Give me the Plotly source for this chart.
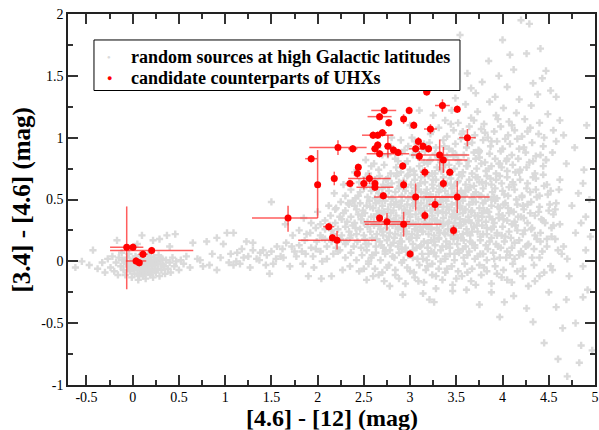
import plotly.graph_objects as go

# ---------------------------------------------------------------------------
# Colour-colour diagram: [4.6]-[12] vs [3.4]-[4.6]
# ---------------------------------------------------------------------------

# Candidate counterparts of UHXs (colours and asymmetric 1-sigma errors)
cand_x = [3.18, 3.35, 3.51, 2.72, 2.99, 2.67, 2.93, 2.77, 3.04, 3.22,
          2.70, 2.60, 2.65, 3.62, 3.09, 2.22, 2.38, 2.62, 2.65, 2.76,
          2.82, 2.87, 2.67, 3.06, 3.14, 3.20, 3.10, 3.32, 3.36, 1.93,
          2.92, 2.44, 2.43, 3.16, 3.43, 2.18, 2.56, 2.00, 2.35, 2.50,
          2.62, 2.62, 2.93, 3.36, 2.71, 3.06, 3.51, 3.27, 1.68, 2.67,
          2.75, 2.93, 3.16, 2.12, 2.16, 2.21, 3.47, 3.00, -0.065, 0.003,
          0.205, 0.111, 0.036, 0.071]
cand_y = [1.37, 1.26, 1.23, 1.22, 1.22, 1.17, 1.15, 1.12, 1.10, 1.07,
          1.04, 1.02, 1.02, 1.00, 0.97, 0.92, 0.91, 0.91, 0.94, 0.93,
          0.90, 0.88, 0.87, 0.91, 0.93, 0.91, 0.85, 0.86, 0.82, 0.83,
          0.77, 0.76, 0.71, 0.72, 0.72, 0.67, 0.67, 0.62, 0.63, 0.63,
          0.63, 0.60, 0.62, 0.63, 0.53, 0.52, 0.52, 0.46, 0.35, 0.35,
          0.32, 0.30, 0.37, 0.28, 0.19, 0.17, 0.25, 0.06, 0.114, 0.114,
          0.087, 0.057, 0.003, -0.011]
cand_ex_lo = [0.04, 0.08, 0.03, 0.14, 0.03, 0.13, 0.03, 0.03, 0.03, 0.07,
              0.05, 0.04, 0.17, 0.09, 0.03, 0.31, 0.05, 0.04, 0.04, 0.04,
              0.03, 0.03, 0.14, 0.07, 0.03, 0.03, 0.03, 0.31, 0.26, 0.065,
              0.03, 0.03, 0.03, 0.05, 0.04, 0.03, 0.23, 0.03, 0.05, 0.04,
              0.03, 0.20, 0.03, 0.03, 0.04, 0.45, 0.35, 0.07, 0.39, 0.03,
              0.25, 0.42, 0.03, 0.06, 0.03, 0.42, 0.03, 0.03, 0.18, 0.03,
              0.45, 0.05, 0.11, 0.03]
cand_ex_hi = [0.04, 0.08, 0.03, 0.13, 0.03, 0.13, 0.03, 0.03, 0.03, 0.07,
              0.05, 0.04, 0.17, 0.09, 0.03, 0.31, 0.05, 0.04, 0.04, 0.04,
              0.03, 0.03, 0.32, 0.07, 0.03, 0.03, 0.03, 0.32, 0.26, 0.065,
              0.03, 0.03, 0.03, 0.05, 0.04, 0.03, 0.23, 0.03, 0.05, 0.04,
              0.03, 0.20, 0.03, 0.03, 0.04, 0.45, 0.35, 0.07, 0.32, 0.03,
              0.25, 0.41, 0.03, 0.06, 0.03, 0.42, 0.03, 0.03, 0.18, 0.03,
              0.45, 0.05, 0.11, 0.03]
cand_ey_lo = [0.03, 0.05, 0.03, 0.03, 0.03, 0.03, 0.04, 0.03, 0.03, 0.04,
              0.03, 0.03, 0.03, 0.07, 0.035, 0.06, 0.03, 0.03, 0.03, 0.09,
              0.03, 0.03, 0.03, 0.03, 0.03, 0.03, 0.04, 0.125, 0.105, 0.03,
              0.03, 0.03, 0.04, 0.04, 0.03, 0.055, 0.045, 0.27, 0.03, 0.05,
              0.03, 0.03, 0.04, 0.04, 0.03, 0.11, 0.13, 0.05, 0.11, 0.03,
              0.07, 0.10, 0.04, 0.03, 0.03, 0.075, 0.04, 0.03, 0.34, 0.03,
              0.03, 0.03, 0.03, 0.03]
cand_ey_hi = [0.03, 0.05, 0.03, 0.03, 0.03, 0.03, 0.04, 0.03, 0.03, 0.04,
              0.03, 0.03, 0.03, 0.07, 0.035, 0.06, 0.03, 0.03, 0.03, 0.09,
              0.03, 0.03, 0.03, 0.03, 0.03, 0.03, 0.04, 0.125, 0.105, 0.03,
              0.03, 0.03, 0.04, 0.04, 0.03, 0.055, 0.045, 0.28, 0.03, 0.05,
              0.03, 0.03, 0.04, 0.04, 0.03, 0.11, 0.13, 0.05, 0.10, 0.03,
              0.07, 0.10, 0.04, 0.03, 0.03, 0.075, 0.04, 0.03, 0.33, 0.03,
              0.03, 0.03, 0.03, 0.03]

# Random WISE sources at high Galactic latitudes ([4.6]-[12], [3.4]-[4.6])
field_sources = [
    # plume towards red [3.4]-[4.6]
    (3.54, 1.83), (3.62, 1.52), (3.71, 1.36), (3.78, 1.45), (3.85, 1.62), (3.92, 1.33),
    (4.00, 1.79), (4.05, 1.41), (4.12, 1.55), (4.18, 1.31), (4.20, 1.95), (4.26, 1.68),
    (4.29, 1.92), (4.33, 1.44), (4.38, 1.35), (4.43, 1.48), (4.47, 1.54), (4.52, 1.38),
    (3.96, 1.50), (4.08, 1.67), (3.66, 1.40), (4.41, 1.72), (3.49, 1.32), (4.58, 1.33),
    # 1.1 - 1.3
    (3.38, 1.14), (3.45, 1.22), (3.52, 1.12), (3.60, 1.27), (3.66, 1.16), (3.73, 1.21),
    (3.80, 1.11), (3.86, 1.29), (3.93, 1.18), (4.01, 1.24), (4.07, 1.13), (4.15, 1.20),
    (4.24, 1.15), (4.31, 1.26), (4.40, 1.12), (4.49, 1.19), (3.25, 1.18), (4.62, 1.14),
    # 1.0 - 1.1
    (3.22, 1.03), (3.31, 1.08), (3.40, 1.01), (3.47, 1.06), (3.56, 1.03), (3.64, 1.09),
    (3.70, 1.02), (3.77, 1.07), (3.84, 1.00), (3.91, 1.05), (3.98, 1.09), (4.06, 1.02),
    (4.13, 1.06), (4.21, 1.01), (4.30, 1.08), (4.39, 1.03), (4.55, 1.06),
    # 0.9 - 1.0
    (2.98, 0.93), (3.05, 0.97), (3.13, 0.91), (3.21, 0.96), (3.28, 0.92), (3.36, 0.98),
    (3.42, 0.91), (3.49, 0.95), (3.55, 0.99), (3.61, 0.92), (3.67, 0.96), (3.74, 0.90),
    (3.79, 0.98), (3.87, 0.93), (3.94, 0.97), (4.00, 0.91), (4.08, 0.95), (4.16, 0.99),
    (4.23, 0.92), (4.32, 0.96), (4.44, 0.93), (4.58, 0.97), (2.90, 0.98),
    # 0.8 - 0.9
    (2.84, 0.83), (2.91, 0.88), (2.97, 0.81), (3.03, 0.86), (3.09, 0.84), (3.16, 0.89),
    (3.22, 0.82), (3.27, 0.87), (3.33, 0.80), (3.40, 0.85), (3.46, 0.89), (3.52, 0.82),
    (3.58, 0.86), (3.63, 0.81), (3.69, 0.88), (3.75, 0.84), (3.81, 0.80), (3.86, 0.87),
    (3.92, 0.83), (3.98, 0.89), (4.04, 0.81), (4.10, 0.86), (4.17, 0.83), (4.25, 0.88),
    (4.33, 0.81), (4.41, 0.86), (4.47, 0.82), (2.76, 0.86), (3.71, 0.83),
    # 0.7 - 0.8
    (2.66, 0.74), (2.72, 0.78), (2.79, 0.71), (2.85, 0.76), (2.90, 0.72), (2.95, 0.79),
    (3.00, 0.74), (3.05, 0.70), (3.10, 0.77), (3.14, 0.73), (3.19, 0.79), (3.24, 0.71),
    (3.29, 0.76), (3.34, 0.73), (3.38, 0.78), (3.43, 0.70), (3.48, 0.75), (3.53, 0.79),
    (3.57, 0.72), (3.62, 0.77), (3.67, 0.71), (3.72, 0.75), (3.77, 0.79), (3.82, 0.73),
    (3.88, 0.77), (3.93, 0.71), (3.99, 0.76), (4.05, 0.73), (4.11, 0.78), (4.18, 0.72),
    (4.26, 0.76), (4.35, 0.71), (4.44, 0.77), (2.58, 0.77), (3.96, 0.79),
    # 0.6 - 0.7
    (2.45, 0.64), (2.52, 0.68), (2.57, 0.61), (2.62, 0.66), (2.67, 0.69), (2.71, 0.62),
    (2.76, 0.67), (2.80, 0.63), (2.85, 0.69), (2.89, 0.61), (2.93, 0.65), (2.97, 0.69),
    (3.01, 0.62), (3.05, 0.66), (3.09, 0.61), (3.12, 0.68), (3.16, 0.64), (3.20, 0.69),
    (3.24, 0.62), (3.28, 0.66), (3.32, 0.61), (3.36, 0.68), (3.40, 0.63), (3.44, 0.67),
    (3.48, 0.61), (3.52, 0.65), (3.56, 0.69), (3.60, 0.62), (3.64, 0.66), (3.69, 0.61),
    (3.73, 0.68), (3.78, 0.64), (3.83, 0.69), (3.88, 0.62), (3.93, 0.66), (3.99, 0.63),
    (4.05, 0.68), (4.12, 0.62), (4.19, 0.66), (4.27, 0.63), (4.36, 0.67), (4.48, 0.62),
    # 0.5 - 0.6
    (2.30, 0.53), (2.36, 0.58), (2.41, 0.51), (2.46, 0.56), (2.50, 0.59), (2.54, 0.52),
    (2.58, 0.57), (2.62, 0.51), (2.66, 0.55), (2.70, 0.59), (2.73, 0.53), (2.77, 0.57),
    (2.81, 0.51), (2.84, 0.56), (2.88, 0.59), (2.91, 0.53), (2.95, 0.57), (2.98, 0.51),
    (3.02, 0.55), (3.05, 0.59), (3.08, 0.52), (3.12, 0.56), (3.15, 0.51), (3.18, 0.58),
    (3.22, 0.54), (3.25, 0.59), (3.28, 0.52), (3.31, 0.56), (3.35, 0.51), (3.38, 0.57),
    (3.41, 0.53), (3.45, 0.59), (3.48, 0.55), (3.52, 0.51), (3.55, 0.57), (3.59, 0.53),
    (3.63, 0.58), (3.67, 0.51), (3.71, 0.56), (3.75, 0.53), (3.79, 0.59), (3.84, 0.52),
    (3.89, 0.56), (3.94, 0.51), (4.00, 0.57), (4.06, 0.53), (4.13, 0.58), (4.21, 0.52),
    (4.30, 0.56), (4.40, 0.53), (4.52, 0.57),
    # 0.4 - 0.5
    (2.20, 0.43), (2.25, 0.48), (2.30, 0.41), (2.34, 0.46), (2.38, 0.49), (2.42, 0.42),
    (2.46, 0.47), (2.49, 0.41), (2.53, 0.45), (2.56, 0.49), (2.60, 0.43), (2.63, 0.47),
    (2.66, 0.41), (2.70, 0.45), (2.73, 0.49), (2.76, 0.42), (2.79, 0.46), (2.82, 0.41),
    (2.85, 0.48), (2.88, 0.44), (2.91, 0.49), (2.94, 0.42), (2.97, 0.46), (3.00, 0.41),
    (3.03, 0.45), (3.06, 0.49), (3.09, 0.43), (3.12, 0.47), (3.15, 0.41), (3.18, 0.45),
    (3.21, 0.49), (3.24, 0.42), (3.27, 0.46), (3.30, 0.41), (3.33, 0.48), (3.36, 0.44),
    (3.39, 0.49), (3.42, 0.42), (3.45, 0.46), (3.48, 0.41), (3.51, 0.47), (3.54, 0.43),
    (3.57, 0.49), (3.60, 0.42), (3.64, 0.46), (3.67, 0.41), (3.71, 0.48), (3.75, 0.43),
    (3.79, 0.47), (3.83, 0.41), (3.88, 0.45), (3.92, 0.49), (3.97, 0.43), (4.03, 0.47),
    (4.09, 0.41), (4.16, 0.46), (4.23, 0.42), (4.31, 0.48), (4.40, 0.44), (4.50, 0.41),
    (4.58, 0.47),
    # 0.3 - 0.4
    (2.08, 0.33), (2.14, 0.37), (2.19, 0.31), (2.24, 0.36), (2.28, 0.39), (2.32, 0.32),
    (2.36, 0.36), (2.40, 0.31), (2.44, 0.38), (2.47, 0.34), (2.51, 0.39), (2.54, 0.32),
    (2.58, 0.36), (2.61, 0.31), (2.64, 0.38), (2.67, 0.34), (2.70, 0.39), (2.73, 0.31),
    (2.76, 0.35), (2.79, 0.39), (2.82, 0.33), (2.85, 0.37), (2.88, 0.31), (2.91, 0.35),
    (2.94, 0.39), (2.97, 0.32), (3.00, 0.36), (3.03, 0.31), (3.06, 0.38), (3.09, 0.34),
    (3.12, 0.39), (3.15, 0.32), (3.18, 0.36), (3.21, 0.31), (3.24, 0.37), (3.27, 0.33),
    (3.30, 0.39), (3.33, 0.31), (3.36, 0.35), (3.39, 0.39), (3.42, 0.32), (3.45, 0.36),
    (3.48, 0.31), (3.51, 0.38), (3.54, 0.34), (3.57, 0.39), (3.60, 0.32), (3.63, 0.36),
    (3.66, 0.31), (3.70, 0.37), (3.74, 0.33), (3.78, 0.39), (3.82, 0.32), (3.86, 0.36),
    (3.91, 0.31), (3.96, 0.38), (4.01, 0.34), (4.07, 0.39), (4.13, 0.32), (4.20, 0.36),
    (4.27, 0.31), (4.35, 0.37), (4.44, 0.33), (4.55, 0.38),
    # 0.2 - 0.3
    (1.92, 0.23), (1.98, 0.27), (2.03, 0.21), (2.08, 0.26), (2.13, 0.29), (2.17, 0.22),
    (2.22, 0.26), (2.26, 0.21), (2.30, 0.28), (2.34, 0.24), (2.38, 0.29), (2.42, 0.22),
    (2.46, 0.26), (2.50, 0.21), (2.54, 0.28), (2.57, 0.24), (2.61, 0.29), (2.64, 0.22),
    (2.68, 0.26), (2.71, 0.21), (2.74, 0.27), (2.78, 0.23), (2.81, 0.29), (2.84, 0.22),
    (2.87, 0.26), (2.90, 0.21), (2.93, 0.28), (2.96, 0.24), (2.99, 0.29), (3.02, 0.22),
    (3.05, 0.26), (3.08, 0.21), (3.11, 0.28), (3.14, 0.24), (3.17, 0.29), (3.20, 0.22),
    (3.23, 0.26), (3.26, 0.21), (3.29, 0.27), (3.32, 0.23), (3.35, 0.29), (3.38, 0.22),
    (3.41, 0.26), (3.44, 0.21), (3.47, 0.28), (3.50, 0.24), (3.53, 0.29), (3.57, 0.22),
    (3.61, 0.26), (3.65, 0.21), (3.69, 0.28), (3.73, 0.24), (3.78, 0.29), (3.83, 0.22),
    (3.88, 0.26), (3.94, 0.21), (4.00, 0.28), (4.07, 0.24), (4.14, 0.29), (4.22, 0.22),
    (4.31, 0.26), (4.41, 0.23), (4.53, 0.27),
    # 0.1 - 0.2
    (1.80, 0.13), (1.86, 0.17), (1.93, 0.11), (1.99, 0.16), (2.05, 0.19), (2.10, 0.12),
    (2.15, 0.16), (2.20, 0.11), (2.25, 0.18), (2.30, 0.14), (2.35, 0.19), (2.39, 0.12),
    (2.43, 0.16), (2.47, 0.11), (2.51, 0.18), (2.55, 0.14), (2.59, 0.19), (2.63, 0.12),
    (2.67, 0.16), (2.71, 0.11), (2.75, 0.17), (2.79, 0.13), (2.83, 0.19), (2.87, 0.12),
    (2.91, 0.16), (2.95, 0.11), (2.99, 0.18), (3.03, 0.14), (3.07, 0.19), (3.11, 0.12),
    (3.15, 0.16), (3.19, 0.11), (3.23, 0.17), (3.27, 0.13), (3.31, 0.19), (3.35, 0.12),
    (3.39, 0.16), (3.43, 0.11), (3.47, 0.18), (3.51, 0.14), (3.55, 0.19), (3.60, 0.12),
    (3.65, 0.16), (3.70, 0.11), (3.76, 0.17), (3.82, 0.13), (3.88, 0.19), (3.95, 0.12),
    (4.02, 0.16), (4.10, 0.11), (4.18, 0.17), (4.27, 0.13), (4.37, 0.18), (4.48, 0.12),
    # 0.0 - 0.1
    (1.95, 0.04), (2.03, 0.08), (2.10, 0.02), (2.17, 0.06), (2.24, 0.09), (2.30, 0.03),
    (2.36, 0.07), (2.42, 0.01), (2.48, 0.05), (2.53, 0.09), (2.58, 0.03), (2.63, 0.07),
    (2.68, 0.01), (2.73, 0.06), (2.78, 0.09), (2.83, 0.03), (2.88, 0.07), (2.93, 0.01),
    (2.98, 0.05), (3.03, 0.09), (3.08, 0.02), (3.13, 0.06), (3.18, 0.01), (3.23, 0.08),
    (3.28, 0.04), (3.33, 0.09), (3.38, 0.02), (3.43, 0.06), (3.48, 0.01), (3.53, 0.07),
    (3.58, 0.03), (3.64, 0.08), (3.70, 0.02), (3.76, 0.06), (3.83, 0.01), (3.90, 0.07),
    (3.97, 0.03), (4.05, 0.08), (4.13, 0.02), (4.22, 0.06), (4.32, 0.03), (4.43, 0.08),
    # -0.1 - 0.0
    (2.35, -0.04), (2.45, -0.08), (2.55, -0.02), (2.62, -0.06), (2.70, -0.09), (2.77, -0.03),
    (2.84, -0.07), (2.91, -0.01), (2.97, -0.05), (3.04, -0.09), (3.10, -0.03), (3.17, -0.07),
    (3.24, -0.02), (3.31, -0.06), (3.38, -0.09), (3.45, -0.04), (3.52, -0.08), (3.59, -0.02),
    (3.67, -0.06), (3.75, -0.03), (3.83, -0.08), (3.92, -0.04), (4.01, -0.07), (4.11, -0.02),
    (4.22, -0.06), (4.34, -0.03), (4.45, -0.09),
    # -0.2 - -0.1
    (2.60, -0.12), (2.72, -0.16), (2.84, -0.11), (2.95, -0.18), (3.05, -0.13), (3.15, -0.17),
    (3.24, -0.11), (3.35, -0.15), (3.46, -0.19), (3.56, -0.12), (3.66, -0.16), (3.77, -0.11),
    (3.88, -0.18), (3.99, -0.13), (4.10, -0.17), (4.22, -0.12), (4.35, -0.16),
    # blue tail
    (2.78, -0.20), (2.92, -0.27), (3.14, -0.26), (3.21, -0.31), (3.28, -0.22), (3.46, -0.24),
    (3.61, -0.23), (3.26, -0.33), (3.75, -0.35), (3.97, -0.45), (4.33, -0.49), (4.45, -0.66),
    (4.65, -0.54), (4.79, -0.50), (4.85, -0.68), (4.58, -0.37), (4.69, -0.31), (4.87, -0.29),
    (4.92, -0.23), (4.83, -0.82), (4.70, -0.93), (4.12, -0.28), (3.88, -0.25), (4.02, -0.33),
    (4.50, -0.25), (4.26, -0.38), (4.97, -0.72), (4.60, -0.79),
    # very red [4.6]-[12]
    (4.72, -0.12), (4.54, -0.07), (4.87, -0.04), (4.90, 0.09), (4.79, 0.23), (4.90, 0.36),
    (4.88, 0.74), (4.87, 0.63), (4.69, 0.79), (4.61, 0.58), (4.47, 0.82), (4.66, 0.12),
    (4.75, 0.45), (4.62, 0.30), (4.82, 0.55), (4.95, 0.20), (4.70, 0.02), (4.57, 0.18),
    (4.94, 0.50), (4.78, 0.92), (4.66, 1.02), (4.91, 1.10), (4.85, 0.31),
    # galaxy core, second sampling
    (2.33, 0.47), (2.41, 0.27), (2.48, 0.37), (2.52, 0.14), (2.57, 0.44), (2.59, 0.05),
    (2.64, 0.58), (2.66, 0.29), (2.69, 0.13), (2.72, 0.40), (2.74, 0.66), (2.77, 0.20),
    (2.80, 0.51), (2.81, 0.04), (2.84, 0.33), (2.86, 0.71), (2.89, 0.16), (2.90, 0.45),
    (2.92, 0.26), (2.95, 0.60), (2.96, 0.08), (2.99, 0.38), (3.01, 0.19), (3.02, 0.52),
    (3.04, 0.73), (3.06, 0.30), (3.07, 0.11), (3.10, 0.43), (3.11, 0.63), (3.13, 0.24),
    (3.14, 0.02), (3.16, 0.35), (3.17, 0.55), (3.19, 0.15), (3.21, 0.81), (3.22, 0.41),
    (3.23, 0.27), (3.25, 0.66), (3.26, 0.07), (3.28, 0.49), (3.29, 0.33), (3.31, 0.18),
    (3.32, 0.58), (3.34, 0.74), (3.35, 0.40), (3.37, 0.23), (3.38, 0.04), (3.40, 0.52),
    (3.41, 0.31), (3.43, 0.14), (3.44, 0.62), (3.46, 0.38), (3.47, 0.85), (3.49, 0.21),
    (3.50, 0.47), (3.52, 0.09), (3.53, 0.70), (3.55, 0.29), (3.56, 0.55), (3.58, 0.17),
    (3.59, 0.42), (3.61, 0.77), (3.62, 0.05), (3.64, 0.33), (3.65, 0.60), (3.67, 0.24),
    (3.68, 0.48), (3.70, 0.13), (3.71, 0.68), (3.73, 0.37), (3.74, 0.88), (3.76, 0.20),
    (3.77, 0.53), (3.79, 0.06), (3.80, 0.41), (3.82, 0.63), (3.83, 0.27), (3.85, 0.75),
    (3.86, 0.16), (3.88, 0.50), (3.89, 0.34), (3.91, 0.02), (3.92, 0.59), (3.94, 0.23),
    (3.95, 0.44), (3.97, 0.69), (3.98, 0.11), (4.00, 0.37), (4.02, 0.54), (4.03, 0.20),
    (4.05, 0.83), (4.06, 0.43), (4.08, 0.05), (4.10, 0.30), (4.11, 0.64), (4.13, 0.15),
    (4.15, 0.50), (4.17, 0.36), (4.19, 0.74), (4.20, 0.08), (4.22, 0.45), (4.24, 0.25),
    (4.26, 0.59), (4.28, 0.14), (4.30, 0.39), (4.33, 0.68), (4.35, 0.21), (4.37, 0.52),
    (4.40, 0.03), (4.42, 0.34), (4.45, 0.61), (4.48, 0.18), (4.51, 0.46), (4.55, 0.29),
    (4.60, 0.09),
    (2.36, 0.21), (2.44, 0.53), (2.50, 0.31), (2.55, 0.00), (2.61, 0.36), (2.63, 0.18),
    (2.67, 0.49), (2.70, 0.24), (2.73, 0.08), (2.76, 0.61), (2.78, 0.34), (2.82, 0.15),
    (2.83, 0.46), (2.87, 0.28), (2.88, 0.64), (2.91, 0.10), (2.94, 0.41), (2.96, 0.22),
    (2.98, 0.70), (3.00, 0.31), (3.03, 0.03), (3.05, 0.47), (3.08, 0.25), (3.09, 0.58),
    (3.12, 0.13), (3.13, 0.39), (3.15, 0.80), (3.18, 0.28), (3.20, 0.06), (3.21, 0.51),
    (3.24, 0.34), (3.26, 0.16), (3.27, 0.71), (3.30, 0.44), (3.31, 0.25), (3.33, 0.00),
    (3.34, 0.62), (3.36, 0.30), (3.39, 0.12), (3.40, 0.44), (3.42, 0.78), (3.44, 0.26),
    (3.45, 0.53), (3.48, 0.06), (3.49, 0.35), (3.51, 0.64), (3.52, 0.19), (3.54, 0.45),
    (3.57, 0.10), (3.58, 0.32), (3.60, 0.57), (3.62, 0.23), (3.63, 0.81), (3.66, 0.40),
    (3.67, 0.15), (3.69, 0.54), (3.72, 0.29), (3.73, 0.04), (3.75, 0.64), (3.78, 0.36),
    (3.79, 0.22), (3.81, 0.49), (3.84, 0.10), (3.85, 0.40), (3.87, 0.67), (3.90, 0.28),
    (3.91, 0.52), (3.93, 0.14), (3.96, 0.35), (3.97, 0.79), (3.99, 0.21), (4.01, 0.46),
    (4.04, 0.03), (4.05, 0.33), (4.07, 0.60), (4.09, 0.19), (4.12, 0.40), (4.14, 0.72),
    (4.16, 0.25), (4.18, 0.05), (4.21, 0.53), (4.23, 0.35), (4.25, 0.12), (4.27, 0.46),
    (4.29, 0.80), (4.32, 0.27), (4.34, 0.10), (4.36, 0.58), (4.39, 0.40), (4.41, 0.16),
    (4.44, 0.70), (4.46, 0.31), (4.49, 0.54), (4.53, 0.20), (4.57, 0.42), (4.62, 0.66),
    (4.64, 0.06),
    (2.55, 0.71), (2.61, 0.79), (2.70, 0.86), (2.79, 0.93), (2.87, 0.81), (2.94, 0.90),
    (3.02, 1.00), (3.08, 0.88), (3.15, 0.95), (3.23, 1.05), (3.30, 0.84), (3.37, 0.93),
    (3.44, 1.11), (3.50, 0.86), (3.57, 1.05), (3.62, 0.95), (3.69, 1.14), (3.75, 0.89),
    (3.81, 1.04), (3.88, 0.97), (3.95, 1.15), (4.03, 0.99), (4.10, 1.10), (4.18, 0.91),
    (4.27, 1.05), (4.36, 0.85), (4.45, 1.00), (4.54, 0.88),
    (2.50, -0.06), (2.66, -0.11), (2.75, -0.05), (2.88, -0.14), (3.00, -0.08), (3.09, -0.16),
    (3.19, -0.04), (3.28, -0.12), (3.40, -0.06), (3.50, -0.14), (3.62, -0.09), (3.71, -0.19),
    (3.80, -0.05), (3.94, -0.10), (4.05, -0.15), (4.16, -0.08), (4.28, -0.20), (4.40, -0.12),
    (4.52, -0.04),
    (2.08, 0.18), (2.15, 0.25), (2.22, 0.08), (2.26, 0.34), (2.31, 0.16), (2.19, 0.42),
    (2.40, 0.45), (1.98, 0.10), (2.03, 0.30), (1.88, 0.22), (1.83, 0.08), (1.72, 0.12),
    (1.62, 0.10), (1.55, 0.02), (1.45, 0.05), (1.38, 0.07), (1.25, 0.04), (1.18, 0.10),
    (1.12, 0.00), (1.06, 0.06),
    # stellar locus
    (-0.62, -0.05), (-0.55, 0.00), (-0.47, -0.03), (-0.43, 0.09), (-0.38, -0.06), (-0.33, -0.01),
    (-0.30, -0.09), (-0.27, 0.02), (-0.24, -0.05), (-0.22, 0.04), (-0.20, -0.08), (-0.18, -0.01),
    (-0.17, 0.17), (-0.16, -0.11), (-0.15, 0.03), (-0.13, -0.04), (-0.12, 0.07), (-0.10, -0.07),
    (-0.09, 0.00), (-0.08, -0.11), (-0.06, 0.03), (-0.05, -0.04), (-0.04, 0.06), (-0.03, -0.08),
    (-0.02, -0.01), (-0.01, -0.13), (0.00, 0.02), (0.01, -0.05), (0.02, -0.10), (0.03, 0.04),
    (0.04, -0.03), (0.05, -0.07), (0.06, 0.00), (0.07, -0.12), (0.08, 0.05), (0.09, -0.05),
    (0.10, -0.02), (0.11, -0.09), (0.12, 0.02), (0.13, -0.06), (0.14, -0.14), (0.15, -0.01),
    (0.16, -0.08), (0.17, 0.06), (0.18, -0.04), (0.19, -0.11), (0.20, 0.01), (0.21, -0.06),
    (0.22, -0.13), (0.23, 0.03), (0.24, -0.03), (0.25, -0.09), (0.26, 0.00), (0.27, -0.06),
    (0.28, 0.05), (0.29, -0.12), (0.30, -0.02), (0.31, -0.07), (0.32, 0.02), (0.34, -0.04),
    (0.35, -0.10), (0.36, 0.01), (0.38, -0.06), (0.40, -0.01), (0.41, -0.09), (0.43, 0.03),
    (0.45, -0.04), (0.47, 0.00), (0.50, -0.07), (0.52, 0.01), (0.55, -0.02),
    (0.02, -0.02), (0.05, -0.04), (0.08, -0.07), (0.10, 0.01), (0.12, -0.03), (0.15, -0.05),
    (0.18, 0.00), (0.20, -0.09), (0.22, -0.02), (0.25, 0.01), (0.00, -0.06), (-0.02, -0.05),
    (0.07, -0.01), (0.13, -0.10), (0.17, -0.07), (0.27, -0.02), (0.33, -0.03), (0.04, 0.01),
    (0.09, -0.09), (0.16, 0.02), (0.11, -0.12), (-0.07, -0.02), (0.24, -0.07), (0.30, 0.03),
    (0.19, 0.04), (-0.11, 0.01), (0.06, -0.15),
    (0.10, 0.21), (0.22, 0.17), (0.29, 0.18), (0.37, 0.21), (0.46, 0.22), (0.05, 0.14),
    (0.40, 0.12),
    # bridge between stars and galaxies
    (0.58, 0.04), (0.62, -0.05), (0.65, 0.15), (0.70, 0.02), (0.73, 0.01), (0.76, -0.04),
    (0.80, 0.16), (0.83, -0.03), (0.86, 0.06), (0.91, 0.19), (0.91, -0.07), (0.95, 0.03),
    (0.98, 0.14), (1.02, 0.23), (1.04, -0.01), (1.09, 0.23), (1.09, -0.03), (1.13, 0.07),
    (1.16, -0.02), (1.20, 0.03), (1.23, 0.16), (1.27, -0.05), (1.30, 0.09), (1.30, 0.15),
    (1.34, 0.02), (1.37, 0.01), (1.41, 0.09), (1.44, -0.03), (1.48, -0.10), (1.50, 0.08),
    (1.50, 0.48), (1.52, -0.02), (1.56, 0.12), (1.60, 0.04), (1.63, 0.03), (1.66, 0.15),
    (1.70, -0.04), (1.73, 0.21), (1.75, 0.08), (1.77, 0.04), (1.80, 0.25), (1.84, -0.02),
    (1.87, 0.06), (1.90, -0.12), (1.93, 0.31), (1.96, -0.05), (2.04, -0.14), (2.15, -0.12),
    (2.27, -0.07), (2.53, -0.15), (2.00, 0.40), (2.12, 0.45), (2.05, 0.00), (1.65, 0.30),
    (1.85, 0.35), (2.18, 0.55), (2.28, 0.62), (2.40, 0.72), (2.52, 0.82), (2.65, 0.92),
    (2.80, 1.00), (3.00, 1.10), (3.10, 1.22),
]
field_x = [p[0] for p in field_sources]
field_y = [p[1] for p in field_sources]

# Axis ticks
x_tick_vals = [-0.5, 0, 0.5, 1, 1.5, 2, 2.5, 3, 3.5, 4, 4.5, 5]
x_tick_text = ["-0.5", "0", "0.5", "1", "1.5", "2", "2.5", "3", "3.5", "4", "4.5", "5"]
y_tick_vals = [-1, -0.5, 0, 0.5, 1, 1.5, 2]
y_tick_text = ["-1", "-0.5", "0", "0.5", "1", "1.5", "2"]

# Legend entries
legend_labels = ["random sources at high Galactic latitudes", "candidate counterparts of UHXs"]

SERIF = "Liberation Serif"
FIELD_GREY = "#dadada"
CAND_RED = "#ff0000"

fig = go.Figure()

fig.add_trace(go.Scatter(
    x=field_x, y=field_y, mode="markers", name=legend_labels[0], showlegend=False,
    marker=dict(symbol="cross", size=6, color=FIELD_GREY, line=dict(width=0)),
))
fig.add_trace(go.Scatter(
    x=cand_x, y=cand_y, mode="markers", name=legend_labels[1], showlegend=False,
    marker=dict(symbol="circle", size=7, color=CAND_RED, line=dict(width=0)),
    error_x=dict(type="data", symmetric=False, array=cand_ex_hi, arrayminus=cand_ex_lo,
                 color="rgba(255,40,40,0.75)", thickness=1.5, width=0),
    error_y=dict(type="data", symmetric=False, array=cand_ey_hi, arrayminus=cand_ey_lo,
                 color="rgba(255,40,40,0.75)", thickness=1.5, width=0),
))

axis_common = dict(
    showgrid=False, zeroline=False,
    showline=True, linecolor="#222222", linewidth=1.5, mirror="allticks",
    ticks="inside", ticklen=10, tickwidth=1.5, tickcolor="#333333",
    tickfont=dict(family=SERIF, size=14, color="black"),
    minor=dict(ticks="inside", ticklen=5, tickwidth=1.5, tickcolor="#333333", dtick=0.25),
)
fig.update_xaxes(range=[-0.7, 5], tickmode="array", tickvals=x_tick_vals,
                 ticktext=x_tick_text, ticklabelstandoff=-2, **axis_common)
fig.update_yaxes(range=[-1, 2], tickmode="array", tickvals=y_tick_vals,
                 ticktext=y_tick_text, **axis_common)

# Framed key in the upper-left corner of the plotting area
legend_box = dict(x0=0.0493, x1=0.7438, y0=0.7938, y1=0.930)
legend_rows = [0.8854, 0.8267]
fig.add_shape(type="rect", xref="paper", yref="paper", layer="above",
              fillcolor="white", line=dict(color="black", width=1), **legend_box)
key_symbols = [("\u25CF", FIELD_GREY, 6), ("\u25CF", CAND_RED, 9)]
for label, (glyph, colour, gsize), row in zip(legend_labels, key_symbols, legend_rows):
    fig.add_annotation(xref="paper", yref="paper", x=0.0778, y=row, text=glyph,
                       showarrow=False, xanchor="center", yanchor="middle",
                       font=dict(family=SERIF, size=gsize, color=colour))
    fig.add_annotation(xref="paper", yref="paper", x=0.1157, y=row, text=f"<b>{label}</b>",
                       showarrow=False, xanchor="left", yanchor="middle",
                       font=dict(family=SERIF, size=18, color="black"))

# Axis titles
fig.add_annotation(xref="paper", yref="paper", x=0.5, y=-0.0863, height=25,
                   text="<b>[4.6] - [12] (mag)</b>", showarrow=False,
                   xanchor="center", yanchor="middle", valign="middle",
                   font=dict(family=SERIF, size=24, color="black"))
fig.add_annotation(xref="paper", yref="paper", x=-0.0873, y=0.5,
                   text="<b>[3.4] - [4.6] (mag)</b>", showarrow=False, textangle=-90,
                   xanchor="center", yanchor="middle",
                   font=dict(family=SERIF, size=25, color="black"))

fig.update_layout(
    width=599, height=430,
    margin=dict(l=68, r=4, t=14, b=45, autoexpand=False),
    paper_bgcolor="white", plot_bgcolor="white",
    font=dict(family=SERIF, color="black"),
    showlegend=False,
)

fig.write_html("out.html")
